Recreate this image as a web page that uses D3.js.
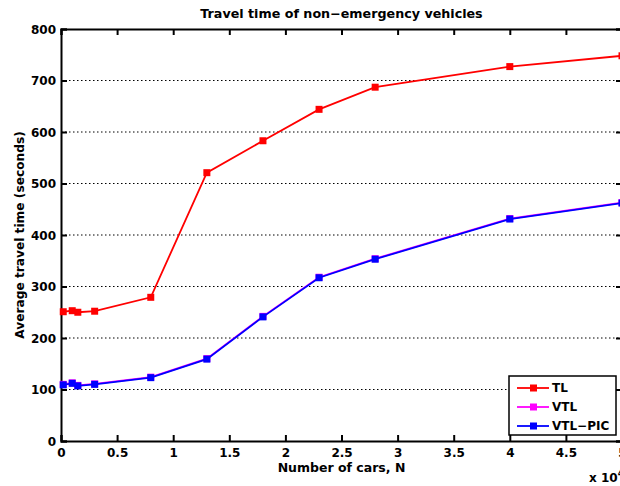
<!DOCTYPE html>
<html><head><meta charset="utf-8">
<script src="https://cdn.jsdelivr.net/npm/d3@7"></script>
<style>
html,body{margin:0;padding:0;background:#fff;}
svg text{font-family:"DejaVu Sans",Arial,sans-serif;font-weight:bold;fill:#000;}
</style></head>
<body>
<svg id="chart" width="620" height="486"></svg>
<script>
const carsN = [0.02, 0.1, 0.15, 0.3, 0.8, 1.3, 1.8, 2.3, 2.8, 4, 5];
const tlValues = [251, 253, 250, 252, 279, 521, 583, 644, 687, 727, 748];
const vtlValues = [110, 113, 108, 111, 124, 160, 242, 318, 354, 432, 463];
const vtlPicValues = [109, 112, 107, 110, 123, 159, 241, 317, 353, 431, 462];
const xTicks = [0, 0.5, 1, 1.5, 2, 2.5, 3, 3.5, 4, 4.5, 5];
const yTicks = [0, 100, 200, 300, 400, 500, 600, 700, 800];
const seriesNames = ["TL", "VTL", "VTL\u2212PIC"];
const seriesColors = ["#ff0000", "#ff00ff", "#0000ff"];
const titleText = "Travel time of non\u2212emergency vehicles";
const xLabel = "Number of cars, N";
const yLabel = "Average travel time (seconds)";

const svg = d3.select("#chart");
const L = 61, R = 622, T = 29, B = 441;
const x = d3.scaleLinear().domain([0, 5]).range([L, R]);
const y = d3.scaleLinear().domain([0, 800]).range([B, T]);

// grid
svg.append("g").selectAll("line").data(yTicks.filter(v => v > 0 && v < 800)).join("line")
  .attr("x1", L).attr("x2", R).attr("y1", d => y(d)).attr("y2", d => y(d))
  .attr("stroke", "#000").attr("stroke-width", 1).attr("stroke-dasharray", "1.5,2.5");

// axes
const fs = 12;
const xAxis = d3.axisBottom(x).tickValues(xTicks).tickSize(-6).tickPadding(7).tickFormat(d3.format("~g"));
const gx = svg.append("g").attr("transform", `translate(0,${B})`).call(xAxis);
const xTop = d3.axisTop(x).tickValues(xTicks).tickSize(-6).tickFormat("");
const gxt = svg.append("g").attr("transform", `translate(0,${T})`).call(xTop);
const yAxis = d3.axisLeft(y).tickValues(yTicks).tickSize(-6).tickPadding(5).tickFormat(d3.format("d"));
const gy = svg.append("g").attr("transform", `translate(${L},0)`).call(yAxis);
const yRight = d3.axisRight(y).tickValues(yTicks).tickSize(-6).tickFormat("");
const gyr = svg.append("g").attr("transform", `translate(${R},0)`).call(yRight);
[gx, gxt, gy, gyr].forEach(g => {
  g.select(".domain").attr("stroke", "#000").attr("stroke-width", 2);
  g.selectAll(".tick line").attr("stroke", "#000").attr("stroke-width", 2);
  g.selectAll("text").attr("font-size", fs).attr("font-family", "DejaVu Sans").attr("font-weight", "bold").attr("fill", "#000");
});
gy.selectAll(".tick text").attr("dy", "0.36em");

// series
const seriesData = [tlValues, vtlValues, vtlPicValues];
const line = d3.line().x((d, i) => x(carsN[i])).y(d => y(d));
seriesData.forEach((vals, k) => {
  const g = svg.append("g");
  g.append("path").datum(vals).attr("d", line).attr("fill", "none")
    .attr("stroke", seriesColors[k]).attr("stroke-width", 1.8);
  g.selectAll("rect").data(vals).join("rect")
    .attr("x", (d, i) => x(carsN[i]) - 3.5).attr("y", d => y(d) - 3.5)
    .attr("width", 7).attr("height", 7).attr("fill", seriesColors[k]);
});

// title and labels
svg.append("text").attr("x", (L + R) / 2).attr("y", 18).attr("text-anchor", "middle")
  .attr("font-size", 12.7).text(titleText);
svg.append("text").attr("x", (L + R) / 2).attr("y", 472).attr("text-anchor", "middle")
  .attr("font-size", 12.5).text(xLabel);
svg.append("text").attr("transform", `translate(24,${(T + B) / 2}) rotate(-90)`).attr("text-anchor", "middle")
  .attr("font-size", 12.2).text(yLabel);
const mult = svg.append("text").attr("x", 589).attr("y", 482).attr("font-size", 12);
mult.append("tspan").text("x 10");
mult.append("tspan").attr("dy", -6).attr("font-size", 9).text("4");

// legend
const lg = svg.append("g");
lg.append("rect").attr("x", 509).attr("y", 376).attr("width", 107).attr("height", 59)
  .attr("fill", "#fff").attr("stroke", "#000").attr("stroke-width", 1.5);
seriesNames.forEach((name, k) => {
  const cy = 388 + k * 19;
  lg.append("line").attr("x1", 517).attr("x2", 549).attr("y1", cy).attr("y2", cy)
    .attr("stroke", seriesColors[k]).attr("stroke-width", 1.8);
  lg.append("rect").attr("x", 530).attr("y", cy - 3.5).attr("width", 7).attr("height", 7).attr("fill", seriesColors[k]);
  lg.append("text").attr("x", 552).attr("y", cy).attr("dy", "0.36em").attr("font-size", 12).text(name);
});
</script>
</body></html>
